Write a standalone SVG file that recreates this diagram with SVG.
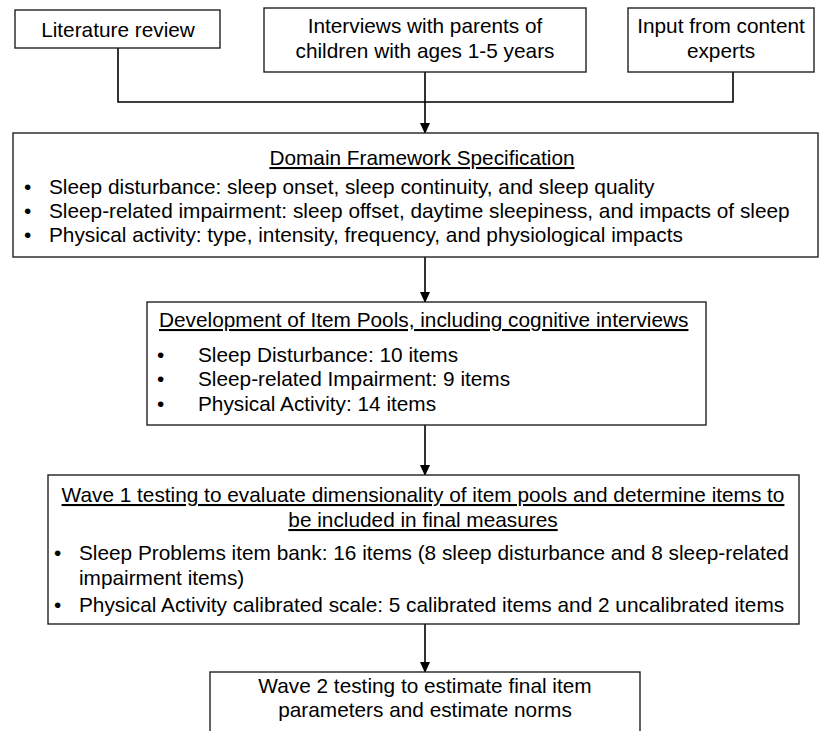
<svg xmlns="http://www.w3.org/2000/svg" width="825" height="731" viewBox="0 0 825 731">
<defs>
<style>
.box{fill:#fff;stroke:#222;stroke-width:1.4}
.t{font-family:"Liberation Sans",Arial,sans-serif;font-size:20.8px;fill:#000}
.c{text-anchor:middle}
.u{text-decoration:underline}
.ln{fill:none;stroke:#000;stroke-width:1.6}
</style>
<marker id="ah" markerWidth="11" markerHeight="11" refX="10" refY="5.5" orient="auto" markerUnits="userSpaceOnUse">
<path d="M0,0.5 L11,5.5 L0,10.5 Z" fill="#000"/>
</marker>
</defs>
<rect width="825" height="731" fill="#fff"/>
<g id="connectors">
<polyline class="ln" points="118,48 118,102 733,102 733,72"/>
<line class="ln" x1="425" y1="72" x2="425" y2="133" marker-end="url(#ah)"/>
<line class="ln" x1="425" y1="257" x2="425" y2="302" marker-end="url(#ah)"/>
<line class="ln" x1="425" y1="425" x2="425" y2="475" marker-end="url(#ah)"/>
<line class="ln" x1="425" y1="624" x2="425" y2="672" marker-end="url(#ah)"/>
</g>
<g id="literature">
<rect class="box" x="15" y="10" width="205" height="38"/>
<text class="t c" x="118" y="37">Literature review</text>
</g>
<g id="interviews">
<rect class="box" x="264" y="8" width="322" height="64"/>
<text class="t c" x="425" y="33">Interviews with parents of</text>
<text class="t c" x="425" y="58">children with ages 1-5 years</text>
</g>
<g id="experts">
<rect class="box" x="628" y="8" width="186" height="64"/>
<text class="t c" x="721" y="33">Input from content</text>
<text class="t c" x="721" y="58">experts</text>
</g>
<g id="domain">
<rect class="box" x="13" y="133" width="805" height="124"/>
<text class="t c u" x="422" y="165">Domain Framework Specification</text>
<text class="t" x="24" y="194">•</text>
<text class="t" x="49" y="194">Sleep disturbance: sleep onset, sleep continuity, and sleep quality</text>
<text class="t" x="24" y="218">•</text>
<text class="t" x="49" y="218">Sleep-related impairment: sleep offset, daytime sleepiness, and impacts of sleep</text>
<text class="t" x="24" y="242">•</text>
<text class="t" x="49" y="242">Physical activity: type, intensity, frequency, and physiological impacts</text>
</g>
<g id="itempools">
<rect class="box" x="147" y="302" width="559" height="123"/>
<text class="t u" x="159" y="327">Development of Item Pools, including cognitive interviews</text>
<text class="t" x="157" y="362">•</text>
<text class="t" x="198" y="362">Sleep Disturbance: 10 items</text>
<text class="t" x="157" y="386">•</text>
<text class="t" x="198" y="386">Sleep-related Impairment: 9 items</text>
<text class="t" x="157" y="411">•</text>
<text class="t" x="198" y="411">Physical Activity: 14 items</text>
</g>
<g id="wave1">
<rect class="box" x="48" y="475" width="751" height="149"/>
<text class="t c u" x="423" y="502">Wave 1 testing to evaluate dimensionality of item pools and determine items to</text>
<text class="t c u" x="423" y="527">be included in final measures</text>
<text class="t" x="54" y="560">•</text>
<text class="t" x="79" y="560">Sleep Problems item bank: 16 items (8 sleep disturbance and 8 sleep-related</text>
<text class="t" x="79" y="585">impairment items)</text>
<text class="t" x="54" y="612">•</text>
<text class="t" x="79" y="612">Physical Activity calibrated scale: 5 calibrated items and 2 uncalibrated items</text>
</g>
<g id="wave2">
<rect class="box" x="210" y="672" width="430" height="70"/>
<text class="t c" x="425" y="693">Wave 2 testing to estimate final item</text>
<text class="t c" x="425" y="717">parameters and estimate norms</text>
</g>
</svg>
